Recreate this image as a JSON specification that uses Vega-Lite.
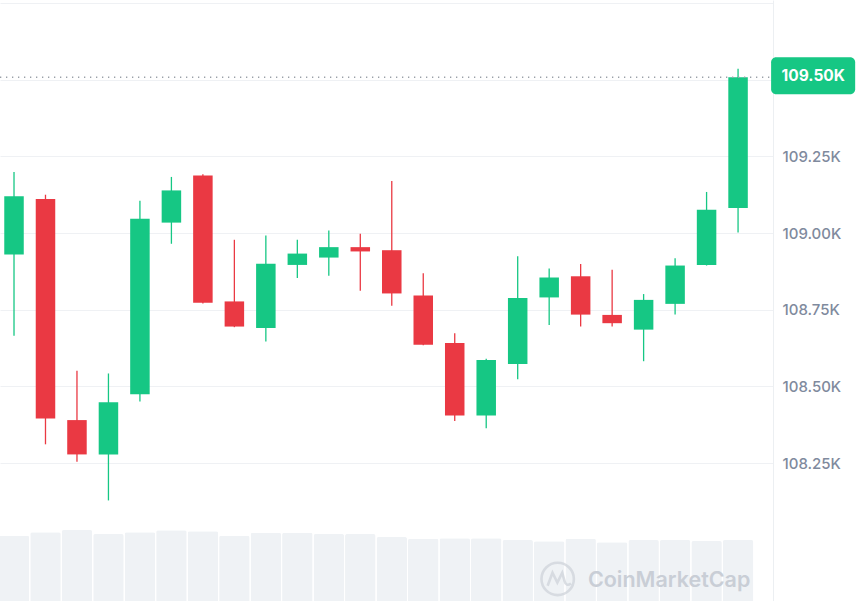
{
  "$schema": "https://vega.github.io/schema/vega-lite/v6.json",
  "width": 773,
  "height": 601,
  "autosize": {"type": "none"},
  "padding": {"left": 0, "top": 0, "right": 93, "bottom": 0},
  "background": "#ffffff",
  "config": {
    "view": {"stroke": null},
    "font": "Inter"
  },
  "datasets": {
    "candles": [
      {"t": 0, "open": 108930, "high": 109199, "low": 108665, "close": 109120, "volume": 1087},
      {"t": 1, "open": 109111, "high": 109125, "low": 108311, "close": 108395, "volume": 1143},
      {"t": 2, "open": 108390, "high": 108551, "low": 108254, "close": 108278, "volume": 1181},
      {"t": 3, "open": 108278, "high": 108542, "low": 108128, "close": 108448, "volume": 1115},
      {"t": 4, "open": 108474, "high": 109105, "low": 108451, "close": 109047, "volume": 1143},
      {"t": 5, "open": 109034, "high": 109183, "low": 108965, "close": 109139, "volume": 1176},
      {"t": 6, "open": 109188, "high": 109192, "low": 108770, "close": 108773, "volume": 1160},
      {"t": 7, "open": 108777, "high": 108978, "low": 108693, "close": 108695, "volume": 1087},
      {"t": 8, "open": 108690, "high": 108992, "low": 108646, "close": 108900, "volume": 1136},
      {"t": 9, "open": 108896, "high": 108978, "low": 108853, "close": 108933, "volume": 1136},
      {"t": 10, "open": 108920, "high": 109008, "low": 108861, "close": 108954, "volume": 1115},
      {"t": 11, "open": 108954, "high": 108998, "low": 108812, "close": 108940, "volume": 1115},
      {"t": 12, "open": 108944, "high": 109170, "low": 108763, "close": 108803, "volume": 1065},
      {"t": 13, "open": 108796, "high": 108869, "low": 108634, "close": 108636, "volume": 1037},
      {"t": 14, "open": 108641, "high": 108673, "low": 108387, "close": 108405, "volume": 1043},
      {"t": 15, "open": 108405, "high": 108590, "low": 108363, "close": 108586, "volume": 1043},
      {"t": 16, "open": 108573, "high": 108924, "low": 108523, "close": 108788, "volume": 1015},
      {"t": 17, "open": 108790, "high": 108884, "low": 108700, "close": 108855, "volume": 993},
      {"t": 18, "open": 108859, "high": 108899, "low": 108695, "close": 108734, "volume": 1037},
      {"t": 19, "open": 108733, "high": 108880, "low": 108695, "close": 108706, "volume": 977},
      {"t": 20, "open": 108685, "high": 108801, "low": 108582, "close": 108782, "volume": 1015},
      {"t": 21, "open": 108769, "high": 108918, "low": 108734, "close": 108894, "volume": 1015},
      {"t": 22, "open": 108896, "high": 109134, "low": 108894, "close": 109076, "volume": 998},
      {"t": 23, "open": 109082, "high": 109536, "low": 109002, "close": 109508, "volume": 1015}
    ]
  },
  "data": {"name": "candles"},
  "layer": [
    {
      "mark": {"type": "bar", "size": 30.5, "color": "#eff2f5", "cornerRadiusTopLeft": 2, "cornerRadiusTopRight": 2},
      "encoding": {
        "x": {"field": "t", "type": "quantitative", "scale": {"domain": [-0.445, 24.11], "nice": false, "zero": false, "padding": 0}, "axis": null},
        "y": {"field": "volume", "type": "quantitative", "scale": {"domain": [0, 10000], "nice": false}, "axis": null}
      }
    },
    {
      "encoding": {
        "x": {"field": "t", "type": "quantitative", "scale": {"domain": [-0.445, 24.11], "nice": false, "zero": false, "padding": 0}, "axis": null}
      },
      "layer": [
        {
          "mark": {"type": "rule", "strokeWidth": 1.3},
          "encoding": {
            "y": {
              "field": "low", "type": "quantitative",
              "scale": {"domain": [107800, 109760], "nice": false, "zero": false},
              "axis": {
                "orient": "right",
                "title": null,
                "values": [108250, 108500, 108750, 109000, 109250, 109500, 109750],
                "labelExpr": "datum.value > 109300 ? '' : format(datum.value / 1000, '.2f') + 'K'",
                "ticks": false,
                "domain": true,
                "domainColor": "#eceff2",
                "domainWidth": 1,
                "grid": true,
                "gridColor": "#eff1f4",
                "gridWidth": 1,
                "labelFont": "Inter",
                "labelFontSize": 15,
                "labelFontWeight": 500,
                "labelColor": "#808a9d",
                "labelPadding": 9,
                "labelBaseline": "middle"
              }
            },
            "y2": {"field": "high"},
            "color": {"condition": {"test": "datum.close >= datum.open", "value": "#16c784"}, "value": "#ea3943"}
          }
        },
        {
          "mark": {"type": "bar", "size": 19.5},
          "encoding": {
            "y": {"field": "open", "type": "quantitative"},
            "y2": {"field": "close"},
            "color": {"condition": {"test": "datum.close >= datum.open", "value": "#16c784"}, "value": "#ea3943"}
          }
        },
        {
          "transform": [{"filter": "datum.t == 23"}],
          "mark": {"type": "rule", "color": "#9aa0a8", "strokeWidth": 1.3, "strokeDash": [1.3, 4.7]},
          "encoding": {
            "x": {"value": 0},
            "x2": {"value": 773},
            "y": {"field": "close", "type": "quantitative"}
          }
        },
        {
          "transform": [{"filter": "datum.t == 23"}],
          "mark": {"type": "rect", "color": "#16c784", "cornerRadius": 5},
          "encoding": {
            "x": {"datum": 24.05},
            "x2": {"datum": 26.72},
            "y": {"datum": 109573},
            "y2": {"datum": 109453}
          }
        },
        {
          "transform": [{"filter": "datum.t == 23"}],
          "mark": {"type": "text", "color": "#ffffff", "font": "Inter", "fontSize": 15.5, "fontWeight": 700, "align": "center", "baseline": "middle"},
          "encoding": {
            "x": {"datum": 25.39},
            "y": {"datum": 109513},
            "text": {"value": "109.50K"}
          }
        },
        {
          "transform": [{"filter": "datum.t == 23"}],
          "mark": {
            "type": "point",
            "shape": "M1,0A1,1,0,1,1,-1,0A1,1,0,1,1,1,0Z M-0.62,0.42 L-0.32,-0.38 L-0.02,0.22 L0.28,-0.38 L0.42,0.12 Q0.52,0.5 0.82,0.28",
            "filled": false,
            "stroke": "#cdd2d9",
            "strokeWidth": 2.6,
            "size": 1050
          },
          "encoding": {
            "x": {"datum": 17.27},
            "y": {"datum": 107872}
          }
        },
        {
          "transform": [{"filter": "datum.t == 23"}],
          "mark": {"type": "text", "color": "#c9ced6", "font": "Inter", "fontSize": 21.5, "fontWeight": 600, "align": "left", "baseline": "middle"},
          "encoding": {
            "x": {"datum": 18.23},
            "y": {"datum": 107866},
            "text": {"value": "CoinMarketCap"}
          }
        }
      ]
    }
  ],
  "resolve": {"scale": {"y": "independent"}}
}
